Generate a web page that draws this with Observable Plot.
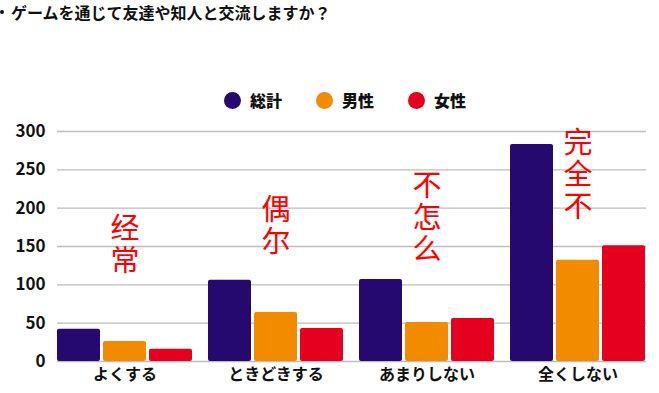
<!DOCTYPE html>
<html>
<head>
<meta charset="utf-8">
<script src="https://cdn.jsdelivr.net/npm/d3@7"></script>
<script src="https://cdn.jsdelivr.net/npm/@observablehq/plot@0.6"></script>
<style>
  html, body { margin: 0; padding: 0; background: #fff; }
  #wrap { position: relative; width: 659px; height: 393px; overflow: hidden; font-family: "Noto Sans CJK JP", "Noto Sans", sans-serif; }
  #bullet { position: absolute; left: 0px; top: 10px; width: 4px; height: 4px; border-radius: 50%; background: #111; }
  #title { position: absolute; left: 11px; top: 3px; font-size: 16px; line-height: 18px; font-weight: 700; color: #111; white-space: nowrap; }
  #legend { position: absolute; left: 224px; top: 90px; display: flex; gap: 34px; align-items: center; }
  .item { display: flex; align-items: center; }
  .dot { width: 17px; height: 17px; border-radius: 50%; margin-right: 9px; }
  .lab { font-size: 16px; font-weight: 900; color: #111; line-height: 20px; }
  #chart { position: absolute; left: 0; top: 110px; }
  #chart g[aria-label$="tick label"] { font-weight: 900; fill: #111; }
  #chart text.vert { writing-mode: vertical-rl; letter-spacing: 3px; }
</style>
</head>
<body>
<div id="wrap">
  <div id="bullet"></div>
  <div id="title">ゲームを通じて友達や知人と交流しますか？</div>
  <div id="legend"></div>
  <div id="chart"></div>
</div>
<script>
const categories = ["よくする", "ときどきする", "あまりしない", "全くしない"];
const series = ["総計", "男性", "女性"];
const totalValues = [42, 106, 107, 283];
const maleValues = [26, 64, 51, 132];
const femaleValues = [16, 43, 56, 151];
const yTicks = [0, 50, 100, 150, 200, 250, 300];
const seriesColors = ["#26096e", "#f28b00", "#e6001f"];
const annotTexts = ["经常", "偶尔", "不怎么", "完全不"];
const annotLevels = [151, 176, 187, 242];

const valuesBySeries = [totalValues, maleValues, femaleValues];
const rows = [];
categories.forEach((c, i) => series.forEach((s, j) => rows.push({category: c, series: s, value: valuesBySeries[j][i]})));
const annots = categories.map((c, i) => ({category: c, text: annotTexts[i], level: annotLevels[i]}));

// legend
const legend = document.getElementById("legend");
series.forEach((s, j) => {
  const it = document.createElement("div"); it.className = "item";
  const d = document.createElement("div"); d.className = "dot"; d.style.background = seriesColors[j];
  const l = document.createElement("div"); l.className = "lab"; l.textContent = s;
  it.appendChild(d); it.appendChild(l); legend.appendChild(it);
});

const W = 659, ML = 56, MR = 14;
const chart = Plot.plot({
  width: W,
  height: 283,
  marginTop: 21,
  marginBottom: 32,
  marginLeft: ML,
  marginRight: MR,
  style: {fontFamily: "'Noto Sans CJK JP', 'Noto Sans', sans-serif", color: "#111", background: "transparent"},
  fx: {domain: categories, paddingInner: 0.106, paddingOuter: 0, label: null},
  x: {domain: series, paddingInner: 0.07, paddingOuter: 0, axis: null},
  y: {domain: [0, 300], label: null},
  color: {domain: series, range: seriesColors},
  marks: [
    Plot.axisY({ticks: yTicks, tickSize: -(W - ML - MR), text: null, stroke: "#bdbdbd", strokeWidth: 1.3, strokeOpacity: 1, label: null}),
    Plot.barY(rows, {fx: "category", x: "series", y: "value", fill: "series", rx: 2}),
    Plot.text(annots, {fx: "category", y: "level", text: "text", fill: "#ff0000", fontSize: 29, lineAnchor: "bottom", fontFamily: "'Noto Sans CJK SC', sans-serif"}),
    Plot.axisY({ticks: yTicks, tickSize: 0, tickPadding: 12, fontSize: 17, fontWeight: "bold", label: null}),
    Plot.axisFx({anchor: "bottom", tickSize: 0, tickPadding: 7, fontSize: 16, fontWeight: "bold", label: null})
  ]
});
chart.querySelectorAll("text").forEach(t => {
  if (annotTexts.includes(t.textContent)) {
    t.classList.add("vert");
    t.setAttribute("writing-mode", "vertical-rl");
  }
});
document.getElementById("chart").appendChild(chart);
</script>
</body>
</html>
